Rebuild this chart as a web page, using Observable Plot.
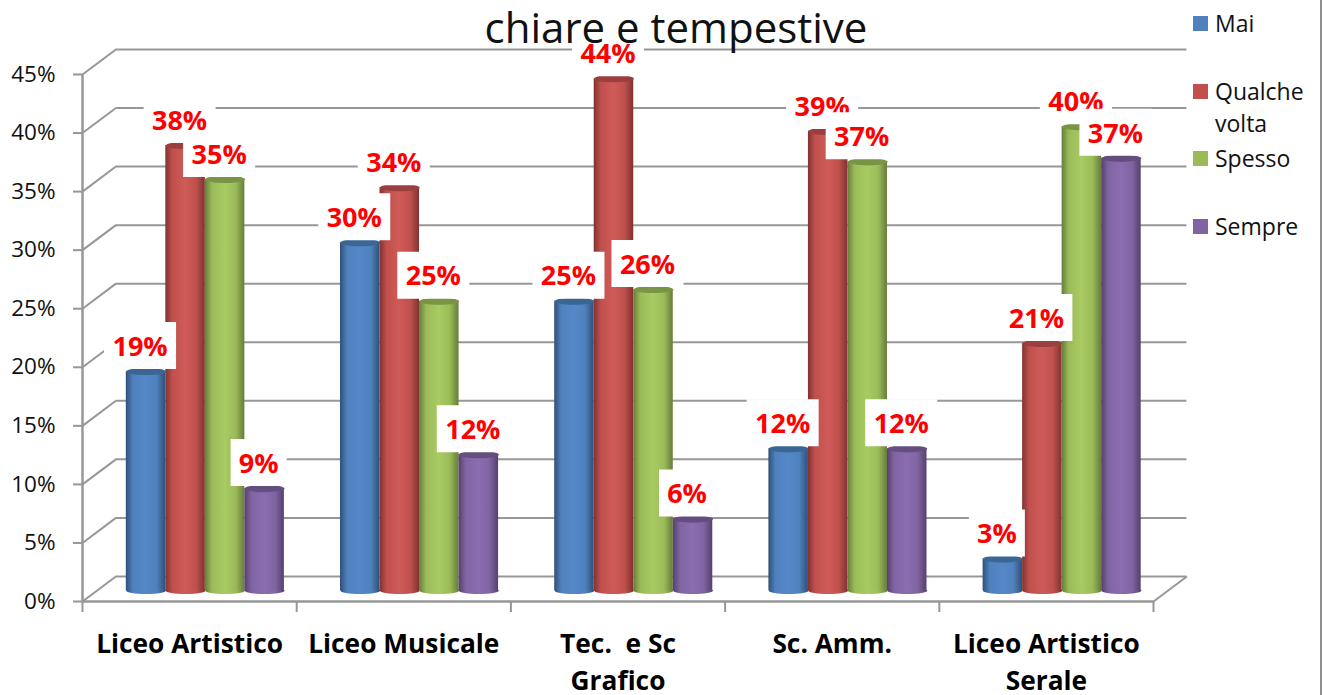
<!DOCTYPE html>
<html><head><meta charset="utf-8">
<script src="https://cdn.jsdelivr.net/npm/d3@7"></script>
<script src="https://cdn.jsdelivr.net/npm/@observablehq/plot@0.6"></script>
<style>
html,body{margin:0;padding:0;background:#fff;overflow:hidden}
#wrap{position:relative;width:1322px;height:695px;font-family:"Open Sans",sans-serif}
#title{position:absolute;left:0;width:1352px;top:0;text-align:center;font-size:42px;line-height:54px;color:#111;white-space:pre}
.lg{position:absolute;left:1215px;font-size:23px;line-height:32px;color:#111;white-space:pre}
.sw{position:absolute;left:1193px;width:15px;height:15px}
#edge{position:absolute;left:1320px;top:0;width:2px;height:695px;background:#8f8f8f}
</style></head><body>
<svg width="0" height="0" style="position:absolute"><defs id="defs"></defs></svg>
<div id="wrap"></div>
<script>
const titleText = "chiare e tempestive";
const categories = ["Liceo Artistico", "Liceo Musicale", "Tec.  e Sc\nGrafico", "Sc. Amm.", "Liceo Artistico\nSerale"];
const seriesNames = ["Mai", "Qualche\nvolta", "Spesso", "Sempre"];
const mai     = [18.7, 29.7, 24.7, 12.1, 2.7];
const qualche = [38.0, 34.4, 43.7, 39.2, 21.1];
const spesso  = [35.1, 24.7, 25.7, 36.6, 39.6];
const sempre  = [8.7, 11.6, 6.1, 12.1, 36.9];
const yTicks = [0, 5, 10, 15, 20, 25, 30, 35, 40, 45];
const mainColors = ["#4f81bd", "#c0504d", "#9bbb59", "#8064a2"];
const lightColors = ["#5488c8", "#cf5b58", "#a8cb62", "#8b6db0"];
const darkColors = ["#2f5078", "#7f3331", "#667c3a", "#54416c"];
const capColors = ["#3b6694", "#9a3f3d", "#7a9445", "#644e80"];
const gridColor = "#979797";

const allSeries = [mai, qualche, spesso, sempre];
const rows = allSeries.flatMap((vals, s) => vals.map((v, c) => ({c, s, v})));

// chart depth, in data units of the x and y scales
const depthX = 0.156, depthY = 2.14;
// bar layout inside each category band
const barStart = 0.2045, barWidth = 0.1845;
const x1 = d => d.c + barStart + d.s * barWidth;
const x2 = d => x1(d) + barWidth;
const xm = d => x1(d) + barWidth / 2;

// gradients
document.getElementById("defs").innerHTML = mainColors.map((m, i) =>
  `<linearGradient id="g${i}" x1="0" x2="1" y1="0" y2="0">
     <stop offset="0" stop-color="${darkColors[i]}"/>
     <stop offset="0.18" stop-color="${m}"/>
     <stop offset="0.5" stop-color="${lightColors[i]}"/>
     <stop offset="0.78" stop-color="${m}"/>
     <stop offset="1" stop-color="${darkColors[i]}"/>
   </linearGradient>`).join("");

const ellipse = (rx, ry) => ({draw(c) {
  const k = 0.5523;
  c.moveTo(-rx, 0);
  c.bezierCurveTo(-rx, -ry * k, -rx * k, -ry, 0, -ry);
  c.bezierCurveTo(rx * k, -ry, rx, -ry * k, rx, 0);
  c.bezierCurveTo(rx, ry * k, rx * k, ry, 0, ry);
  c.bezierCurveTo(-rx * k, ry, -rx, ry * k, -rx, 0);
  c.closePath();
}});
const box = (w, h) => ({draw(c) {
  c.moveTo(-w / 2, -h / 2); c.lineTo(w / 2, -h / 2); c.lineTo(w / 2, h / 2); c.lineTo(-w / 2, h / 2); c.closePath();
}});

const barLift = -11;   // bars stand midway through the chart's depth
const barMarks = mainColors.flatMap((_, s) => {
  const data = rows.filter(d => d.s === s);
  const fill = `url(#g${s})`;
  return [
    Plot.dot(data.map(d => ({...d, zero: 0})), {x: xm, y: "zero", symbol: ellipse(20, 3.6), r: 5, fill, stroke: "none", dy: barLift}),
    Plot.rect(data, {x1, x2, y1: () => 0, y2: "v", fill, dy: barLift}),
    Plot.dot(data, {x: xm, y: "v", symbol: ellipse(20, 3.6), r: 5, fill: capColors[s], stroke: "none", dy: barLift})
  ];
});

const label = d => Math.round(d.v) + "%";
const labelMarks = mainColors.flatMap((_, s) => {
  const data = rows.filter(d => d.s === s);
  return [
    Plot.dot(data.filter(d => label(d).length > 2), {x: xm, y: "v", symbol: box(72, 47), r: 5, fill: "white", stroke: "none", dx: -6, dy: -37}),
    Plot.dot(data.filter(d => label(d).length <= 2), {x: xm, y: "v", symbol: box(56, 47), r: 5, fill: "white", stroke: "none", dx: -6, dy: -37}),
    Plot.text(data, {x: xm, y: "v", text: label, dx: -6, dy: -35.5, fill: "#ff0000", fontWeight: 700, fontSize: 27})
  ];
});

const chart = Plot.plot({
  width: 1322, height: 695,
  marginLeft: 82, marginRight: 169, marginTop: 74, marginBottom: 94,
  style: {fontFamily: '"Open Sans", sans-serif', background: "transparent", overflow: "visible"},
  x: {domain: [0, 5], axis: null},
  y: {domain: [0, 45], axis: null},
  marks: [
    Plot.ruleY(yTicks, {x1: depthX, x2: 5 + depthX, dy: depthY * -11.7, stroke: gridColor, strokeWidth: 2}),
    Plot.link(yTicks, {x1: 0, y1: d => d, x2: depthX, y2: d => d + depthY, stroke: gridColor, strokeWidth: 2}),
    Plot.link([0], {x1: 5, y1: 0, x2: 5 + depthX, y2: depthY, stroke: gridColor, strokeWidth: 2}),
    Plot.ruleY([0], {x1: 0, x2: 5, stroke: gridColor, strokeWidth: 2.5}),
    Plot.ruleX([0], {y1: 0, y2: 45, stroke: gridColor, strokeWidth: 2.5}),
    Plot.axisY({ticks: yTicks, tickFormat: d => d + "%", tickSize: 9, tickPadding: 18, stroke: gridColor, strokeWidth: 2, fill: "#111", fontSize: 22.5, label: null}),
    Plot.axisX({ticks: [0, 1, 2, 3, 4, 5], tickFormat: () => "", tickSize: 11, stroke: gridColor, strokeWidth: 2, label: null}),
    Plot.axisX({ticks: categories.map((_, i) => i + 0.5), tickFormat: d => categories[d - 0.5], tickSize: 0, tickPadding: 25, fill: "#000", fontWeight: 700, fontSize: 26.3, lineHeight: 1.41, label: null, textOverflow: null}),
    ...barMarks,
    ...labelMarks
  ]
});
const wrap = document.getElementById("wrap");
wrap.appendChild(chart);

const title = document.createElement("div");
title.id = "title"; title.textContent = titleText;
wrap.appendChild(title);

const legendTop = [16, 84, 151, 219];
seriesNames.forEach((name, i) => {
  const sw = document.createElement("div");
  sw.className = "sw"; sw.style.top = legendTop[i] + "px"; sw.style.background = mainColors[i];
  wrap.appendChild(sw);
  name.split("\n").forEach((line, j) => {
    const t = document.createElement("div");
    t.className = "lg"; t.textContent = line;
    t.style.top = (legendTop[i] - 9 + j * 32) + "px";
    wrap.appendChild(t);
  });
});
const edge = document.createElement("div"); edge.id = "edge"; wrap.appendChild(edge);
</script>
</body></html>
